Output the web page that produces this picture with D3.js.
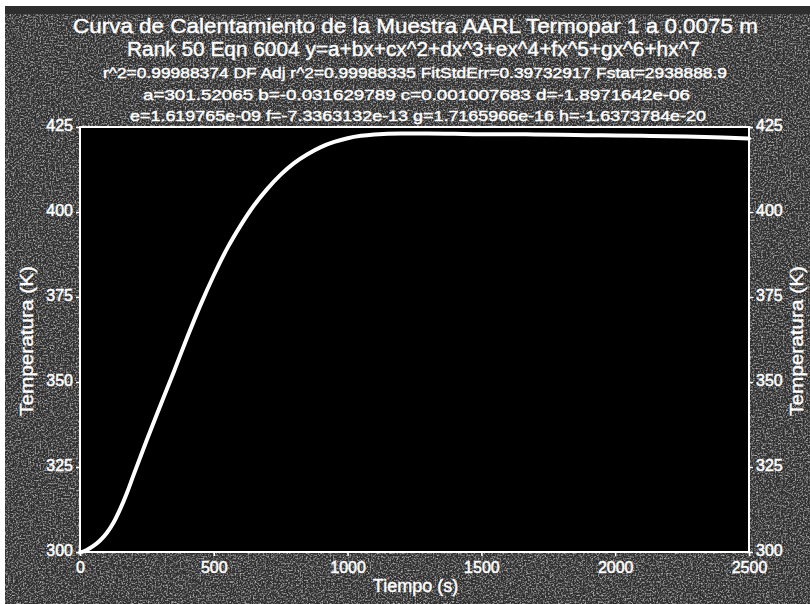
<!DOCTYPE html>
<html>
<head>
<meta charset="utf-8">
<script src="https://cdn.jsdelivr.net/npm/d3@7"></script>
<style>
  html, body { margin: 0; padding: 0; background: #ffffff; }
  svg { display: block; }
  text { font-family: "Liberation Sans", Arial, sans-serif; fill: #ffffff; }
</style>
</head>
<body>
<svg id="chart" width="810" height="604"></svg>
<script>
// ---- data ----
const timeS = [0, 25, 50, 75, 100, 125, 150, 175, 200, 250, 300, 350, 400, 450, 500, 550, 600, 650, 700,
  750, 800, 850, 900, 950, 1000, 1050, 1100, 1200, 1300, 1400, 1500, 1600, 1700, 1800, 1900, 2000,
  2100, 2200, 2300, 2400, 2500];
const tempK = [299.8, 300.6, 301.8, 303.4, 305.6, 308.6, 312.6, 317.3, 322.6, 333.0, 343.0, 352.9, 363.0, 372.6, 381.4, 389.3, 396.0, 401.9, 406.8,
  411.0, 414.4, 417.0, 419.1, 420.6, 421.7, 422.4, 422.8, 423.1, 423.1, 423.0, 422.9, 422.9, 422.8, 422.7, 422.6, 422.5,
  422.4, 422.3, 422.1, 421.9, 421.6];
const xTicks = [0, 500, 1000, 1500, 2000, 2500];
const yTicks = [300, 325, 350, 375, 400, 425];
const titleLines = [
  "Curva de Calentamiento de la Muestra AARL Termopar 1 a 0.0075 m",
  "Rank 50  Eqn 6004  y=a+bx+cx^2+dx^3+ex^4+fx^5+gx^6+hx^7",
  "r^2=0.99988374  DF Adj r^2=0.99988335  FitStdErr=0.39732917  Fstat=2938888.9",
  "a=301.52065 b=-0.031629789 c=0.001007683 d=-1.8971642e-06",
  "e=1.619765e-09 f=-7.3363132e-13 g=1.7165966e-16 h=-1.6373784e-20"
];
const xLabel = "Tiempo (s)";
const yLabel = "Temperatura (K)";

// ---- layout ----
const W = 810, H = 604;
const plot = { left: 80, right: 749, top: 127, bottom: 552 };

const svg = d3.select("#chart");
const defs = svg.append("defs");
const f = defs.append("filter").attr("id", "noise")
  .attr("x", 0).attr("y", 0).attr("width", "100%").attr("height", "100%");
f.append("feTurbulence").attr("type", "fractalNoise").attr("baseFrequency", 0.6)
  .attr("numOctaves", 3).attr("seed", 11).attr("stitchTiles", "stitch");
f.append("feColorMatrix").attr("type", "matrix")
  .attr("values", "0 0 0 0 1  0 0 0 0 1  0 0 0 0 1  2.6 0 0 0 -1.1");

// scanned-looking backdrop
svg.append("rect").attr("x", 0).attr("y", 0).attr("width", W).attr("height", H).attr("fill", "#ffffff");
svg.append("rect").attr("x", 5).attr("y", 6).attr("width", W - 5).attr("height", H - 6).attr("fill", "#2e2e2e");
svg.append("rect").attr("x", 5).attr("y", 14).attr("width", W - 5).attr("height", H - 14)
  .attr("fill", "#000").attr("filter", "url(#noise)").attr("opacity", 0.6);

// plot area
svg.append("rect")
  .attr("x", plot.left).attr("y", plot.top)
  .attr("width", plot.right - plot.left).attr("height", plot.bottom - plot.top)
  .attr("fill", "#000000");

const x = d3.scaleLinear().domain([0, 2500]).range([plot.left, plot.right]);
const y = d3.scaleLinear().domain([300, 425]).range([plot.bottom, plot.top]);

// axes
const tickStyle = g => {
  g.select(".domain").remove();
  g.selectAll(".tick line").attr("stroke", "#ffffff").attr("stroke-width", 1.5);
  g.selectAll(".tick text").attr("fill", "#ffffff")
    .attr("stroke", "#ffffff").attr("stroke-width", 0.5)
    .style("font-family", "'Liberation Sans', Arial, sans-serif")
    .style("font-size", "16px");
};
svg.append("g").attr("transform", `translate(0,${plot.bottom})`)
  .call(d3.axisBottom(x).tickValues(xTicks).tickSize(4).tickPadding(6).tickFormat(d3.format("d")))
  .call(tickStyle);
svg.append("g").attr("transform", `translate(${plot.left},0)`)
  .call(d3.axisLeft(y).tickValues(yTicks).tickSize(4).tickPadding(3).tickFormat(d3.format("d")))
  .call(tickStyle)
  .call(g => g.selectAll(".tick text").attr("dy", "0.2em"));
svg.append("g").attr("transform", `translate(${plot.right},0)`)
  .call(d3.axisRight(y).tickValues(yTicks).tickSize(4).tickPadding(3).tickFormat(d3.format("d")))
  .call(tickStyle)
  .call(g => g.selectAll(".tick text").attr("dy", "0.2em"));

// frame
svg.append("rect")
  .attr("x", plot.left).attr("y", plot.top)
  .attr("width", plot.right - plot.left).attr("height", plot.bottom - plot.top)
  .attr("fill", "none").attr("stroke", "#ffffff").attr("stroke-width", 2);

// curve
const pts = timeS.map((t, i) => [t, tempK[i]]);
svg.append("path")
  .datum(pts)
  .attr("fill", "none")
  .attr("stroke", "#ffffff")
  .attr("stroke-width", 4)
  .attr("stroke-linejoin", "round")
  .attr("stroke-linecap", "round")
  .attr("d", d3.line().x(d => x(d[0])).y(d => y(d[1])).curve(d3.curveMonotoneX));

// titles
const titleSpec = [
  { y: 33, size: 21, x0: 73, x1: 758 },
  { y: 56, size: 20, x0: 127, x1: 700 },
  { y: 78, size: 14, x0: 103, x1: 727 },
  { y: 100, size: 14.5, x0: 143, x1: 690 },
  { y: 121, size: 14.5, x0: 130, x1: 706 }
];
titleLines.forEach((s, i) => {
  const sp = titleSpec[i];
  svg.append("text")
    .attr("x", sp.x0).attr("y", sp.y)
    .attr("textLength", sp.x1 - sp.x0).attr("lengthAdjust", "spacingAndGlyphs")
    .attr("stroke", "#ffffff").attr("stroke-width", 0.4)
    .style("font-size", sp.size + "px")
    .text(s);
});

// axis titles
svg.append("text")
  .attr("x", (plot.left + plot.right) / 2 + 1).attr("y", 592)
  .attr("text-anchor", "middle").style("font-size", "18px")
  .attr("stroke", "#ffffff").attr("stroke-width", 0.4)
  .text(xLabel);
svg.append("text")
  .attr("transform", `translate(33,341) rotate(-90)`)
  .attr("text-anchor", "middle").style("font-size", "19px")
  .attr("textLength", 150).attr("lengthAdjust", "spacingAndGlyphs")
  .attr("stroke", "#ffffff").attr("stroke-width", 0.4)
  .text(yLabel);
svg.append("text")
  .attr("transform", `translate(803,341) rotate(-90)`)
  .attr("text-anchor", "middle").style("font-size", "19px")
  .attr("textLength", 150).attr("lengthAdjust", "spacingAndGlyphs")
  .attr("stroke", "#ffffff").attr("stroke-width", 0.4)
  .text(yLabel);
</script>
</body>
</html>
